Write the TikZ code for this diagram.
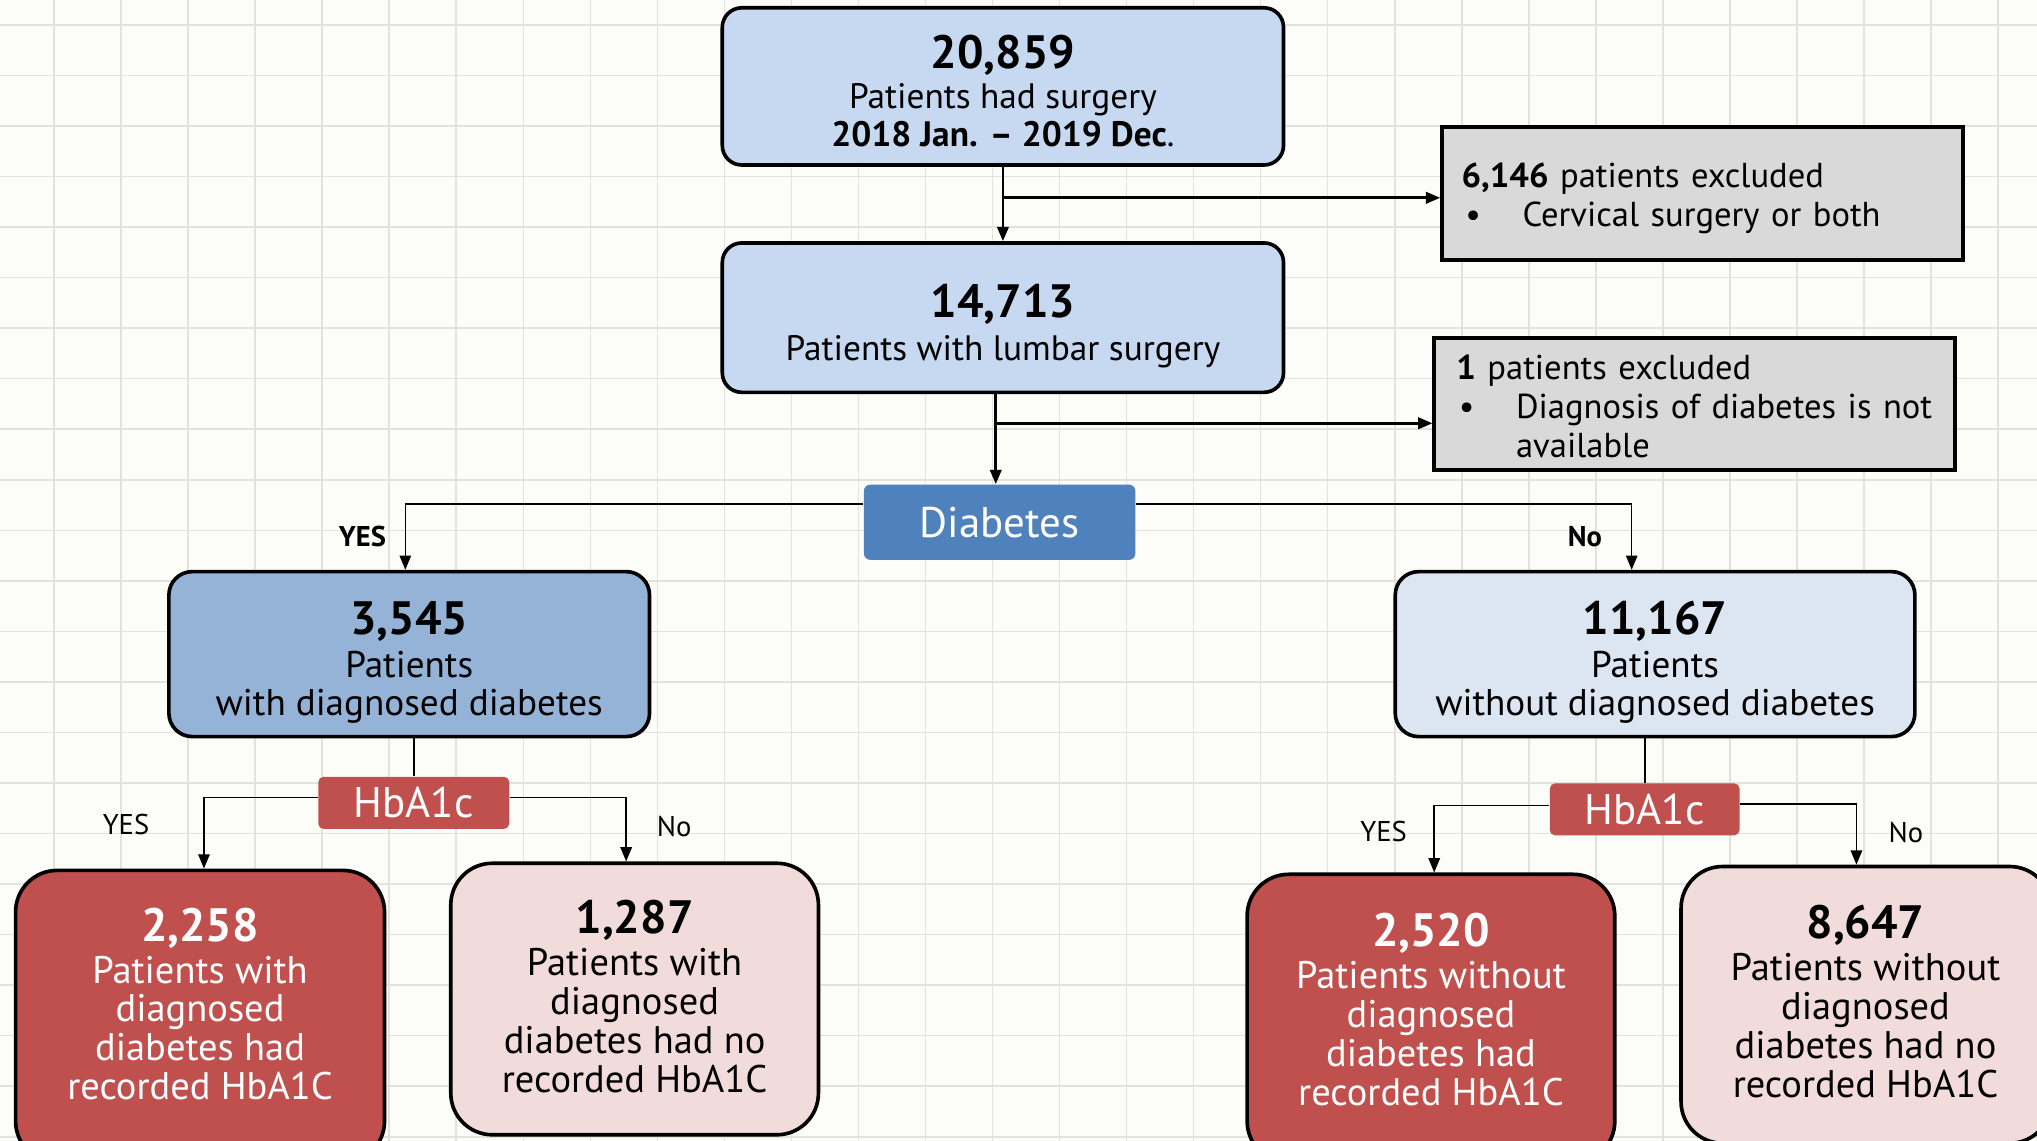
\documentclass[tikz,border=0pt]{standalone}
\usepackage{fontspec}
\setmainfont{PT Sans}
\usetikzlibrary{arrows.meta,calc}
\definecolor{bgc}{HTML}{FCFCF8}
\definecolor{gridc}{HTML}{E2E2DE}
\definecolor{lblue}{HTML}{C6D9F1}
\definecolor{mblue}{HTML}{95B3D7}
\definecolor{pblue}{HTML}{DCE6F2}
\definecolor{dblue}{HTML}{4F81BD}
\definecolor{dred}{HTML}{C0504D}
\definecolor{pinkc}{HTML}{F2DCDB}
\definecolor{greyx}{HTML}{D9D9D9}
\newcommand\bignum[1]{{\fontsize{18}{18}\selectfont\bfseries #1}}
\newcommand\boxnum[2][16.5pt]{{\fontsize{18}{18}\selectfont\bfseries\rule{0pt}{#1}#2}}
\tikzset{
  base/.style={draw=black, line width=1.4pt, align=center, inner sep=0pt},
  topbox/.style={base, fill=lblue, rounded corners=7.5pt, minimum width=216pt,
     font=\fontsize{13.6}{14.5}\selectfont},
  midbox/.style={base, rounded corners=9pt, minimum height=63.5pt,
     font=\fontsize{14.3}{14.5}\selectfont},
  exbox/.style={base, fill=greyx, minimum width=200.5pt, minimum height=51pt,
     align=left, font=\fontsize{13.3}{15}\selectfont},
  decbox/.style={inner sep=0pt, text=white, rounded corners=2.5pt,
     font=\fontsize{16.5}{16.5}\selectfont},
  botbox/.style={base, rounded corners=16pt, minimum width=142pt},
  bottxt/.style={align=center, inner sep=0pt, font=\fontsize{14.8}{15}\selectfont},
  lbl/.style={inner sep=0pt, font=\fontsize{11}{11}\selectfont},
  conn/.style={line width=1pt, -{Triangle[length=5.5pt,width=4.4pt]}},
  thinconn/.style={line width=0.6pt, -{Triangle[length=5.5pt,width=4.4pt]}},
  plain/.style={line width=0.9pt},
}
\begin{document}
\begin{tikzpicture}[x=0.5pt,y=-0.5pt]
\useasboundingbox (0,0) rectangle (1568,878);
\clip (0,0) rectangle (1568,878);
\fill[bgc] (0,0) rectangle (1568,878);
\foreach \i in {0,...,30} \draw[gridc, line width=0.6pt] ({41.6+51.6*\i},0) -- ({41.6+51.6*\i},878);
\foreach \j in {0,...,22} \draw[gridc, line width=0.6pt] (0,{19.2+38.9*\j}) -- (1568,{19.2+38.9*\j});

% top boxes
\node[topbox, minimum height=60.5pt] (A) at (772,66.5)
  {\boxnum{20,859}\\[1pt]Patients had surgery\\\textbf{2018 Jan. – 2019 Dec}.};
\node[topbox, minimum height=57.5pt] (B) at (772,244.5)
  {\boxnum[19.5pt]{14,713}\\[2pt]Patients with lumbar surgery};

% exclusion boxes
\node[exbox, text width=185.5pt] (E1) at (1310.5,149)
  {\rule{0pt}{13.5pt}\textbf{6,146} patients excluded\\\hspace*{1.5pt}\makebox[22pt][l]{\textbullet}Cervical surgery or both};
\node[exbox, text width=183.5pt] (E2) at (1304.5,311)
  {\rule{0pt}{11pt}\textbf{1} patients excluded\\\hspace*{1pt}\makebox[22pt][l]{\textbullet}\mbox{Diagnosis of diabetes is not}\\\hspace*{23pt}available};

% decision
\node[decbox, fill=dblue, minimum width=104.5pt, minimum height=29pt] (D) at (769.5,402) {Diabetes};

% middle boxes
\node[midbox, fill=mblue, minimum width=185pt] (C3) at (315,503.5)
  {\boxnum[19pt]{3,545}\\[2pt]Patients\\with diagnosed diabetes};
\node[midbox, fill=pblue, minimum width=200pt] (C4) at (1274,503.5)
  {\boxnum[19pt]{11,167}\\[2pt]Patients\\without diagnosed diabetes};

% HbA1c
\node[decbox, fill=dred, minimum width=73.5pt, minimum height=20pt, rounded corners=2pt] (H1) at (318.5,618) {HbA1c};
\node[decbox, fill=dred, minimum width=73pt, minimum height=20pt, rounded corners=2pt] (H2) at (1266,623) {HbA1c};

% bottom boxes
\node[botbox, fill=dred, minimum height=112.5pt] (B1) at (154,782.5) {};
\node[bottxt, text=white] (T1) at (154,773)
  {\bignum{2,258}\\[1pt]Patients with\\diagnosed\\diabetes had\\recorded HbA1C};
\node[botbox, fill=pinkc, minimum width=141.5pt, minimum height=104.5pt] (B2) at (488.5,769) {};
\node[bottxt] (T2) at (488.5,767)
  {\bignum{1,287}\\[1pt]Patients with\\diagnosed\\diabetes had no\\recorded HbA1C};
\node[botbox, fill=dred, minimum width=141.5pt, minimum height=111pt] (B3) at (1101.5,784) {};
\node[bottxt, text=white] (T3) at (1101.5,777)
  {\bignum{2,520}\\[1pt]Patients without\\diagnosed\\diabetes had\\recorded HbA1C};
\node[botbox, fill=pinkc, minimum width=142.5pt, minimum height=106.5pt] (B4) at (1436.5,773.5) {};
\node[bottxt] (T4) at (1436,771)
  {\bignum{8,647}\\[1pt]Patients without\\diagnosed\\diabetes had no\\recorded HbA1C};

% labels
\node[lbl, font=\fontsize{11}{11}\selectfont\bfseries] (Ly1) at (279,413) {YES};
\node[lbl, font=\fontsize{11}{11}\selectfont\bfseries] (Ln1) at (1220,413) {No};
\node[lbl] (Ly2) at (97,635) {YES};
\node[lbl] (Ln2) at (519,636) {No};
\node[lbl] (Ly3) at (1065,640) {YES};
\node[lbl] (Ln3) at (1467,641) {No};

% connectors
\draw[conn] (A.south) -- (B.north);
\coordinate (br1) at ($(A.south)!0.417!(B.north)$);
\draw[conn] (br1) -- (br1 -| E1.west);
\draw[conn] ([xshift=-1.5pt]D.north |- B.south) -- ([xshift=-1.5pt]D.north);
\coordinate (br2) at ($([xshift=-1.5pt]D.north |- B.south)!0.324!([xshift=-1.5pt]D.north)$);
\draw[conn] (br2) -- (br2 -| E2.west);
\draw[thinconn] ([yshift=7pt]D.west) -| ([xshift=-1.5pt]C3.north);
\draw[thinconn] ([yshift=7pt]D.east) -| ([xshift=-9pt]C4.north);
\draw[plain] (C3.south -| H1.north) -- (H1.north);
\draw[thinconn] ([yshift=2pt]H1.west) -| ([xshift=1.5pt]B1.north);
\draw[thinconn] ([yshift=2pt]H1.east) -| ([xshift=-3.25pt]B2.north);
\draw[plain] (C4.south -| H2.north) -- (H2.north);
\draw[thinconn] ([yshift=1.5pt]H2.west) -| ([xshift=1.25pt]B3.north);
\draw[thinconn] ([yshift=2pt]H2.east) -| ([xshift=-3.75pt]B4.north);
\end{tikzpicture}
\end{document}
